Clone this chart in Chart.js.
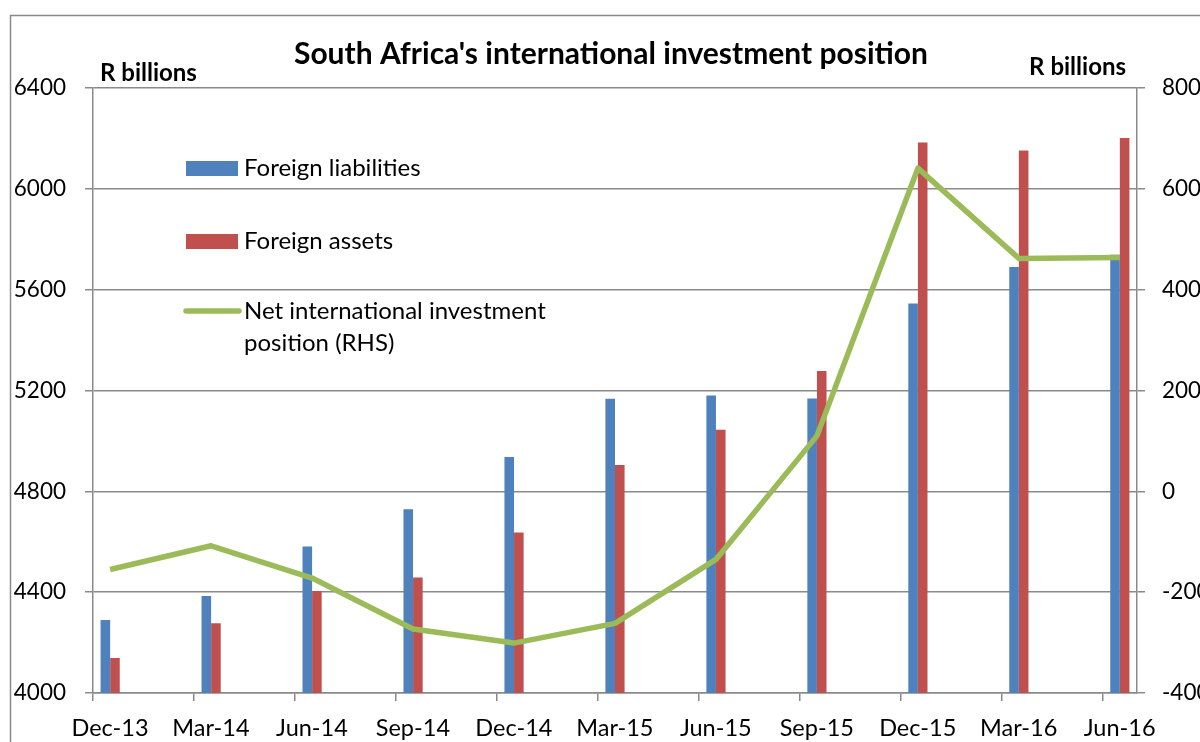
<!DOCTYPE html>
<html>
<head>
<meta charset="utf-8">
<script src="https://cdn.jsdelivr.net/npm/chart.js@4.4.1/dist/chart.umd.min.js"></script>
<style>
  html, body { margin: 0; padding: 0; background: #fff; }
  canvas { display: block; }
</style>
</head>
<body>
<canvas id="iipChart" width="1200" height="742"></canvas>
<script>
// quarterly data, R billions
const quarters = ['Dec-13', 'Mar-14', 'Jun-14', 'Sep-14', 'Dec-14', 'Mar-15', 'Jun-15', 'Sep-15', 'Dec-15', 'Mar-16', 'Jun-16'];
const foreignLiabilities = [4290, 4385, 4581, 4729, 4936, 5167, 5180, 5168, 5545, 5690, 5739];
const foreignAssets = [4139, 4277, 4405, 4458, 4637, 4904, 5044, 5277, 6184, 6152, 6202];
const netPosition = [-155, -108, -172, -273, -301, -262, -135, 110, 641, 462, 464];

const leftTicks = [4000, 4400, 4800, 5200, 5600, 6000, 6400];
const rightTicks = [-400, -200, 0, 200, 400, 600, 800];

const titleText = "South Africa's international investment position";
const unitText = 'R billions';
const legendLabels = [['Foreign liabilities'], ['Foreign assets'], ['Net international investment', 'position (RHS)']];

const FONT = 'Lato, "Open Sans", sans-serif';
const GRID = '#8a8a8a';
const EDGE = 0.17; // axis runs a little past first/last quarter

const toPoints = arr => arr.map((v, i) => ({ x: i, y: v }));

const decorPlugin = {
  id: 'decor',
  beforeDraw(chart) {
    const ctx = chart.ctx;
    ctx.save();
    ctx.strokeStyle = GRID;
    ctx.lineWidth = 1.5;
    ctx.beginPath();
    ctx.moveTo(10.5, 760);
    ctx.lineTo(10.5, 15.5);
    ctx.lineTo(1210, 15.5);
    ctx.stroke();
    ctx.restore();
  },
  afterDatasetsDraw(chart) {
    const ctx = chart.ctx;
    ctx.save();
    ctx.fillStyle = '#000';
    ctx.textBaseline = 'alphabetic';

    ctx.font = 'bold 30px ' + FONT;
    ctx.textAlign = 'center';
    ctx.fillText(titleText, 611, 64);

    ctx.font = 'bold 24px ' + FONT;
    ctx.textAlign = 'left';
    ctx.fillText(unitText, 100, 81);
    ctx.textAlign = 'right';
    ctx.fillText(unitText, 1126, 75);

    // legend
    const rows = [168, 241, 311];
    ctx.font = '24px ' + FONT;
    ctx.textAlign = 'left';
    chart.data.datasets.forEach((ds, k) => {
      const y = rows[k];
      if (ds.type === 'line') {
        ctx.strokeStyle = ds.borderColor;
        ctx.lineWidth = 5.5;
        ctx.lineCap = 'round';
        ctx.beginPath();
        ctx.moveTo(186, y);
        ctx.lineTo(239, y);
        ctx.stroke();
      } else {
        ctx.fillStyle = ds.backgroundColor;
        ctx.fillRect(186, y - 7, 52, 15);
      }
      ctx.fillStyle = '#000';
      legendLabels[k].forEach((line, j) => {
        ctx.fillText(line, 244, y + 8 + j * 32);
      });
    });
    ctx.restore();
  }
};

new Chart(document.getElementById('iipChart'), {
  type: 'bar',
  data: {
    datasets: [
      {
        label: 'Foreign liabilities',
        data: toPoints(foreignLiabilities),
        backgroundColor: '#4F81BD',
        yAxisID: 'y',
        order: 1,
        categoryPercentage: 0.19,
        barPercentage: 1.0
      },
      {
        label: 'Foreign assets',
        data: toPoints(foreignAssets),
        backgroundColor: '#C0504D',
        yAxisID: 'y',
        order: 1,
        categoryPercentage: 0.19,
        barPercentage: 1.0
      },
      {
        type: 'line',
        label: 'Net international investment position (RHS)',
        data: toPoints(netPosition),
        borderColor: '#9BBB59',
        backgroundColor: '#9BBB59',
        borderWidth: 5.5,
        borderJoinStyle: 'round',
        pointRadius: 0,
        tension: 0,
        yAxisID: 'y1',
        order: 0
      }
    ]
  },
  options: {
    responsive: false,
    animation: false,
    devicePixelRatio: 1,
    layout: { padding: { top: 88, left: 0, right: 0, bottom: 0 } },
    plugins: {
      legend: { display: false },
      title: { display: false },
      tooltip: { enabled: false }
    },
    scales: {
      x: {
        type: 'linear',
        min: -EDGE,
        max: quarters.length - 1 + EDGE,
        offset: false,
        afterBuildTicks: scale => {
          scale.ticks = quarters.map((q, i) => ({ value: i - EDGE }));
        },
        afterFit: scale => { scale.height = 49; },
        ticks: {
          callback: (v, i) => quarters[i],
          labelOffset: 17,
          autoSkip: false,
          maxRotation: 0,
          padding: 13,
          color: '#000',
          font: { family: FONT, size: 23.5 }
        },
        grid: { display: true, drawOnChartArea: false, drawTicks: true, tickLength: 8, color: GRID, lineWidth: 1.5, offset: false },
        border: { display: true, color: GRID, width: 1.5 }
      },
      y: {
        position: 'left',
        min: 4000,
        max: 6400,
        afterBuildTicks: scale => { scale.ticks = leftTicks.map(v => ({ value: v })); },
        afterFit: scale => { scale.width = 93; },
        ticks: { padding: 19, color: '#000', font: { family: FONT, size: 22.5 }, callback: v => String(v) },
        grid: { color: GRID, lineWidth: 1.5, tickLength: 8 },
        border: { display: true, color: GRID, width: 1.5 }
      },
      y1: {
        position: 'right',
        min: -400,
        max: 800,
        afterBuildTicks: scale => { scale.ticks = rightTicks.map(v => ({ value: v })); },
        afterFit: scale => { scale.width = 63; },
        ticks: { padding: 17, color: '#000', font: { family: FONT, size: 22.5 }, callback: v => String(v) },
        grid: { drawOnChartArea: false, drawTicks: true, color: GRID, lineWidth: 1.5, tickLength: 8 },
        border: { display: true, color: GRID, width: 1.5 }
      }
    }
  },
  plugins: [decorPlugin]
});
</script>
</body>
</html>
